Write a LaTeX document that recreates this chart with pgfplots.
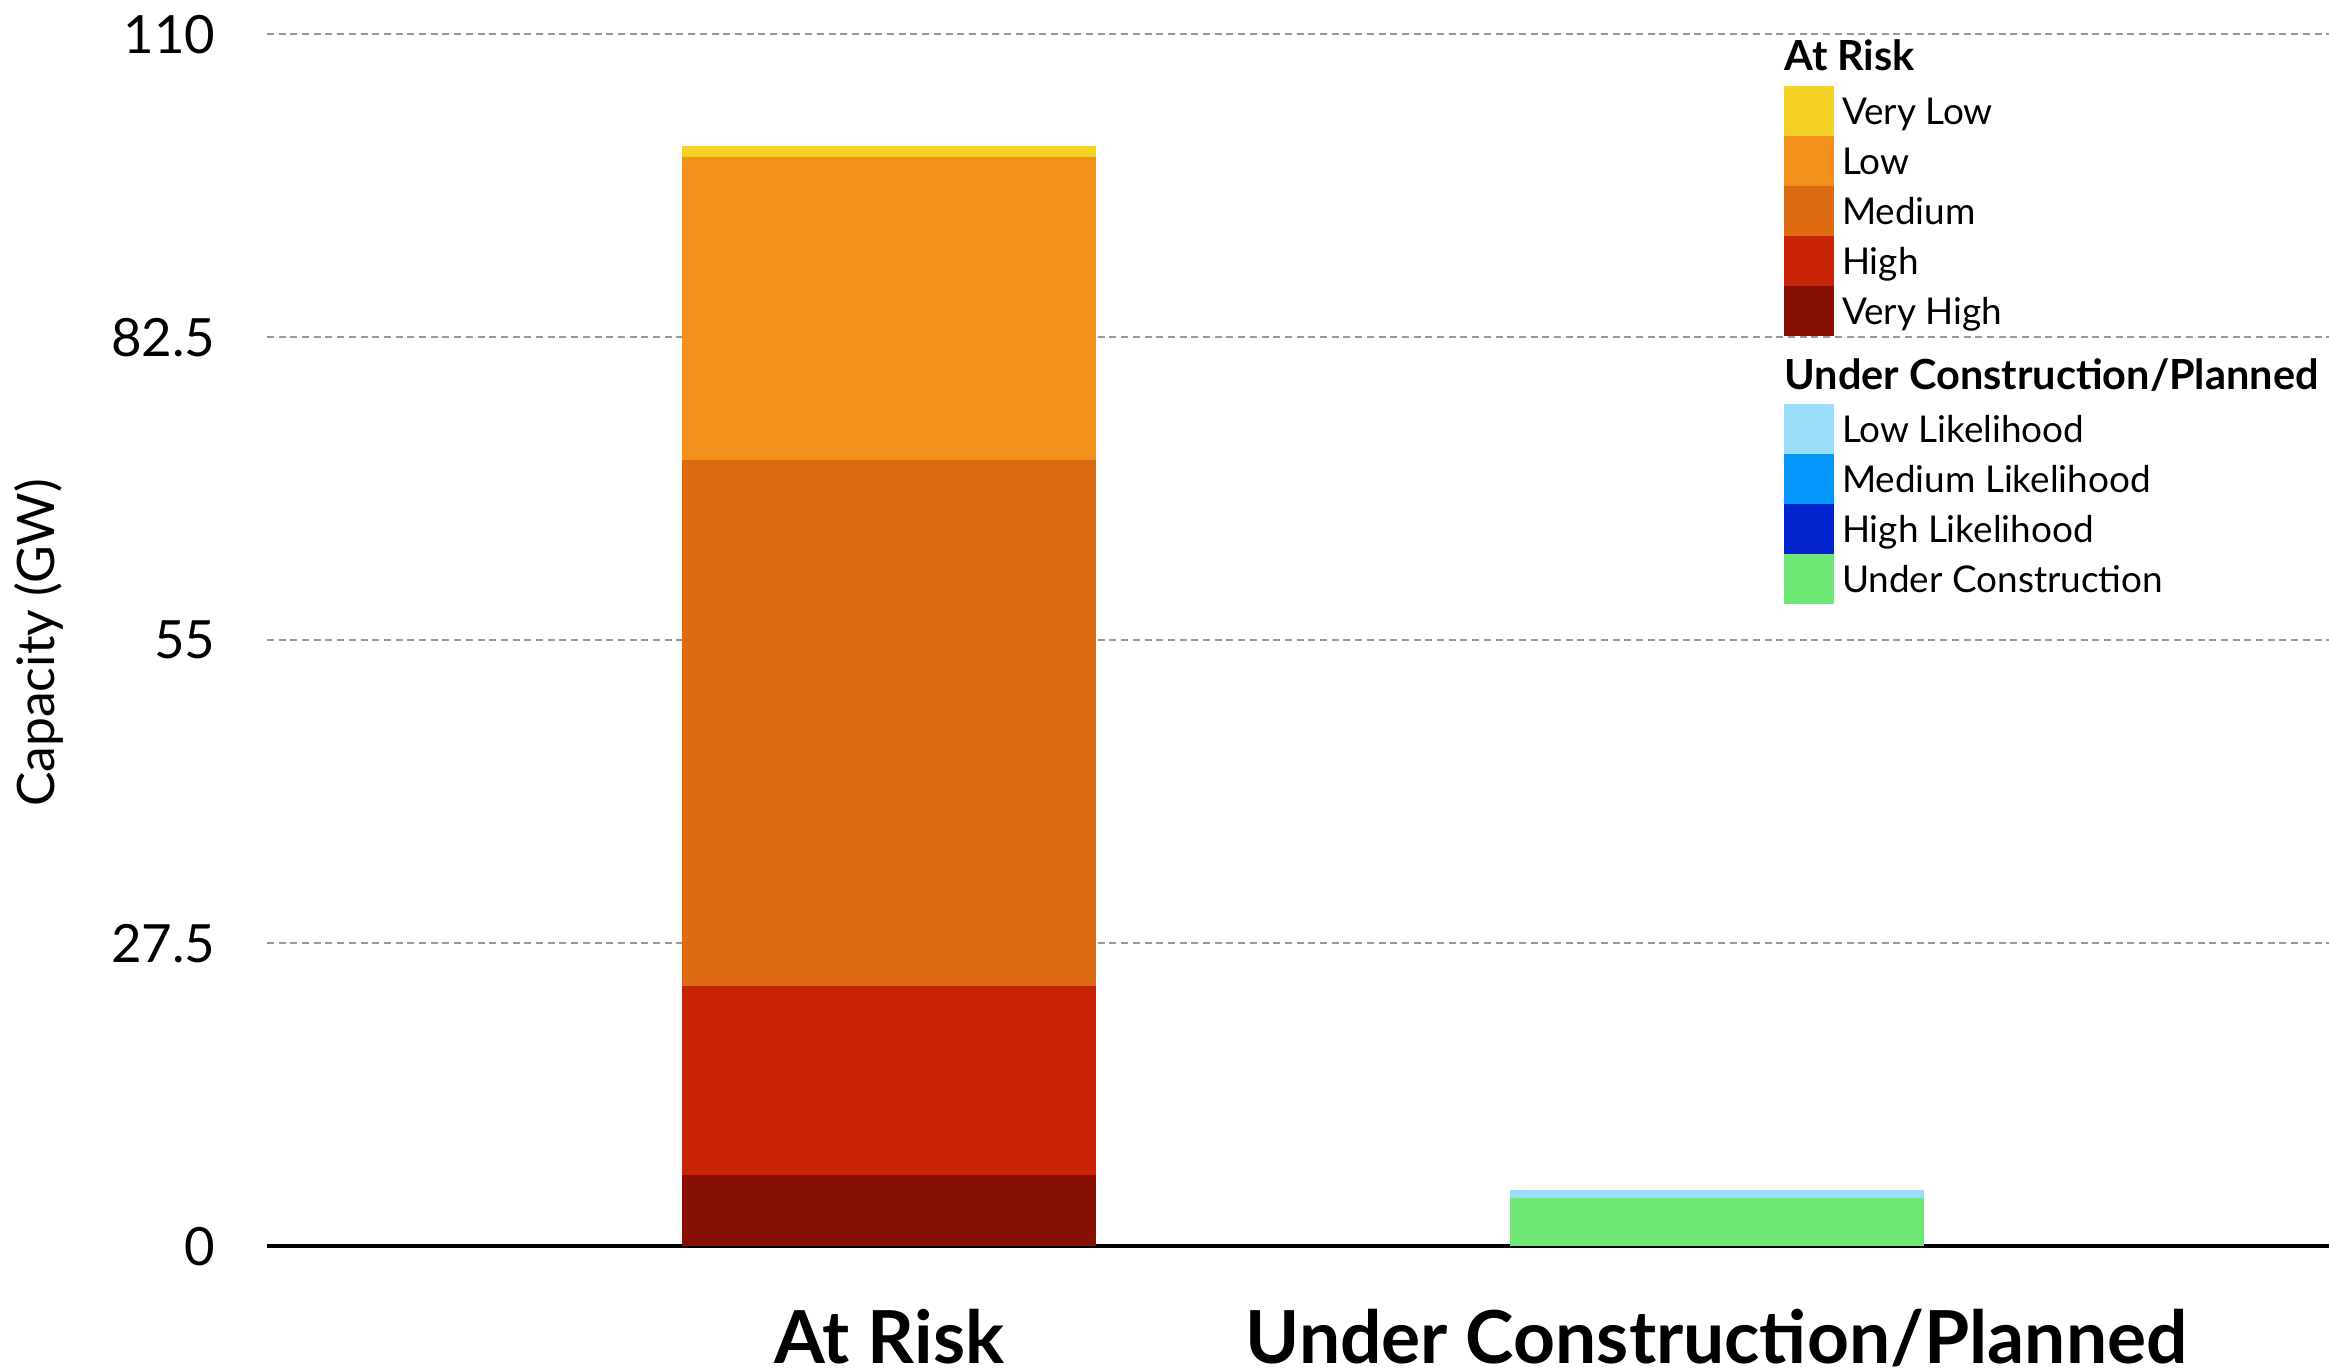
\documentclass[border=0pt]{standalone}
\usepackage{pgfplots}
\pgfplotsset{compat=1.18}
\usepackage{fontspec}
\setmainfont{Lato}

% risk levels
\definecolor{vlow}{HTML}{F6D125}
\definecolor{low}{HTML}{F2901B}
\definecolor{medium}{HTML}{DD6B11}
\definecolor{high}{HTML}{C72405}
\definecolor{vhigh}{HTML}{881003}
% pipeline likelihood
\definecolor{lowlik}{HTML}{99DDFB}
\definecolor{medlik}{HTML}{0496F8}
\definecolor{highlik}{HTML}{0223CD}
\definecolor{constr}{HTML}{6DE874}

\pgfplotsset{
  swatch/.style={draw=none, fill=#1,
    legend image code/.code={\path[draw=none, fill=#1] (0mm,-2.5mm) rectangle (5mm,2.5mm);}},
  heading/.style n args={3}{legend image code/.code={%
    \path[draw=none, fill=none] (0mm,-#2) rectangle (5mm,#3);
    \node[overlay, draw=none, fill=none, anchor=base west, inner sep=0pt,
          text height=, text depth=, text=black,
          font=\bfseries\fontsize{11.8}{14}\selectfont] at (0.05mm,0mm) {#1};}},
}

\begin{document}
\begin{tikzpicture}
\begin{axis}[
  scale only axis,
  width=206.2mm, height=121.2mm,
  xmin=-0.752, xmax=1.740,
  ymin=0, ymax=110,
  ybar stacked,
  bar width=41.4mm,
  axis x line*=bottom,
  axis y line*=left,
  y axis line style={draw=none},
  x axis line style={black, line width=0.95pt},
  major tick length=0pt,
  xtick={0,1},
  xticklabels={At Risk, Under Construction/Planned},
  ytick={0,27.5,55,82.5,110},
  yticklabels={0,27.5,55,82.5,110},
  ymajorgrids,
  major grid style={gray!80, line width=0.37pt, dash pattern=on 0.7mm off 0.47mm},
  yticklabel style={font=\fontsize{15}{18}\selectfont, anchor=east,
    inner sep=0pt, text depth=0pt, xshift=-5.1mm},
  xticklabel style={font=\bfseries\fontsize{20.8}{24}\selectfont, anchor=base,
    inner sep=0pt, text depth=0pt, yshift=-11.7mm},
  ylabel={Capacity (GW)},
  every axis y label/.style={at={(axis description cs:-0.112,0.4975)},
    rotate=90, anchor=center, inner sep=0pt, text height=10.5pt, text depth=0pt,
    font=\fontsize{14.7}{17}\selectfont},
  reverse legend,
  legend cell align=left,
  legend style={draw=none, fill=none, inner sep=0pt, outer sep=0pt,
    row sep=0pt, column sep=0.8mm,
    at={(axis description cs:0.7357,0.9950)}, anchor=north west,
    font=\fontsize{10.5}{12}\selectfont,
    nodes={inner sep=0pt, text height=7.5pt, text depth=0pt}},
]
% under construction / planned pipeline (bottom to top)
\addplot[swatch=constr]  coordinates {(0,0) (1,4.36)};
\addlegendentry{Under Construction}
\addplot[swatch=highlik] coordinates {(0,0) (1,0)};
\addlegendentry{High Likelihood}
\addplot[swatch=medlik]  coordinates {(0,0) (1,0)};
\addlegendentry{Medium Likelihood}
\addplot[swatch=lowlik]  coordinates {(0,0) (1,0.73)};
\addlegendentry{Low Likelihood}
\addlegendimage{heading={Under Construction/Planned}{1.5mm}{5.3mm}}
\addlegendentry{}
% capacity at risk (bottom to top)
\addplot[swatch=vhigh]  coordinates {(0,6.4) (1,0)};
\addlegendentry{Very High}
\addplot[swatch=high]   coordinates {(0,17.2) (1,0)};
\addlegendentry{High}
\addplot[swatch=medium] coordinates {(0,47.7) (1,0)};
\addlegendentry{Medium}
\addplot[swatch=low]    coordinates {(0,27.5) (1,0)};
\addlegendentry{Low}
\addplot[swatch=vlow]   coordinates {(0,1.0) (1,0)};
\addlegendentry{Very Low}
\addlegendimage{heading={At Risk}{1.6mm}{3.0mm}}
\addlegendentry{}
\end{axis}
\pgfresetboundingbox
\useasboundingbox (-26.7mm,-12.5mm) rectangle (206.2mm,124.6mm);
\end{tikzpicture}
\end{document}
